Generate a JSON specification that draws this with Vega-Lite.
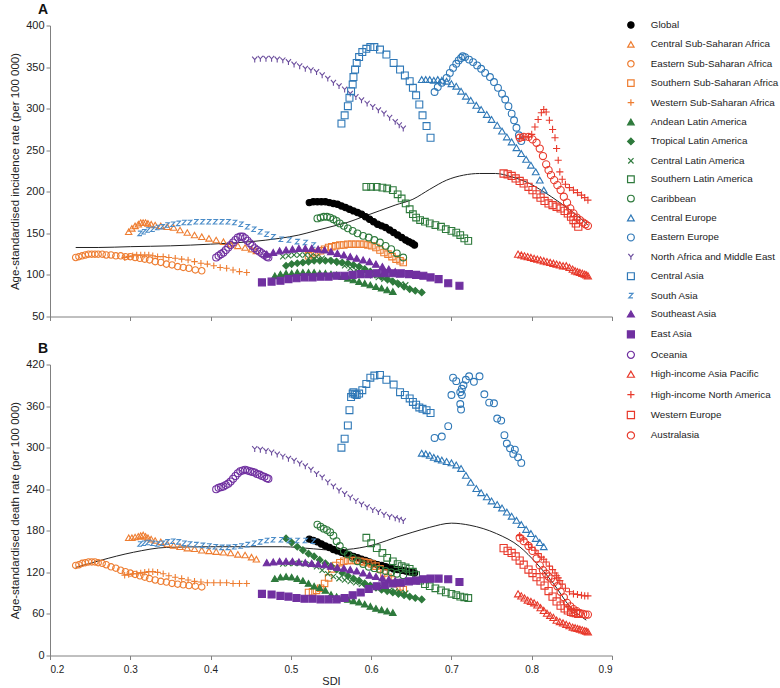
{
"$schema":"https://vega.github.io/schema/vega-lite/v6.json",
"background":"white",
"padding":{"left":9,"top":2.5,"right":0,"bottom":0},
"config":{"font":"Liberation Sans","view":{"stroke":null},
"axis":{"grid":false,"domainColor":"#808080","tickColor":"#808080","tickSize":4,"labelColor":"#222","titleColor":"#222","labelFontSize":11,"titleFontSize":11.5,"titleFontWeight":"normal","labelPadding":2},
"legend":{"title":null,"labelFont":"Liberation Sans","labelFontSize":9.8,"labelColor":"#222","symbolStrokeWidth":1.2,"rowPadding":7.4,"labelOffset":15}},
"resolve":{"scale":{"x":"independent","y":"independent"}},
"spacing":20,
"datasets":{
"la":[{"x":0.232,"a":133},{"x":0.26,"a":133},{"x":0.3,"a":134},{"x":0.35,"a":135},{"x":0.4,"a":137},{"x":0.45,"a":140},{"x":0.486,"a":144},{"x":0.51,"a":148},{"x":0.53,"a":153},{"x":0.55,"a":158},{"x":0.57,"a":163},{"x":0.59,"a":170},{"x":0.61,"a":177},{"x":0.63,"a":184},{"x":0.652,"a":191},{"x":0.673,"a":203},{"x":0.694,"a":214},{"x":0.715,"a":220},{"x":0.735,"a":222},{"x":0.755,"a":222},{"x":0.775,"a":218},{"x":0.795,"a":211},{"x":0.815,"a":200},{"x":0.835,"a":187},{"x":0.852,"a":175},{"x":0.87,"a":160}],
"lb":[{"x":0.232,"b":127},{"x":0.262,"b":137},{"x":0.304,"b":149},{"x":0.345,"b":156},{"x":0.4,"b":157},{"x":0.45,"b":157},{"x":0.49,"b":157},{"x":0.528,"b":154},{"x":0.553,"b":152},{"x":0.578,"b":154},{"x":0.607,"b":161},{"x":0.632,"b":171},{"x":0.652,"b":178},{"x":0.673,"b":185},{"x":0.7,"b":191},{"x":0.723,"b":188},{"x":0.756,"b":176},{"x":0.785,"b":157},{"x":0.806,"b":133},{"x":0.827,"b":104},{"x":0.848,"b":70},{"x":0.868,"b":51}],
"d":[
{"s":"Global","x":0.523,"a":187,"b":168},{"s":"Global","x":0.528,"a":188,"b":166},{"s":"Global","x":0.533,"a":188,"b":164},{"s":"Global","x":0.538,"a":188,"b":161},{"s":"Global","x":0.543,"a":188,"b":158},{"s":"Global","x":0.548,"a":187,"b":156},{"s":"Global","x":0.553,"a":186,"b":153},{"s":"Global","x":0.558,"a":185,"b":151},{"s":"Global","x":0.563,"a":183,"b":149},{"s":"Global","x":0.568,"a":181,"b":147},{"s":"Global","x":0.573,"a":179,"b":145},{"s":"Global","x":0.578,"a":177,"b":143},{"s":"Global","x":0.583,"a":175,"b":141},{"s":"Global","x":0.588,"a":173,"b":139},{"s":"Global","x":0.593,"a":170,"b":137},{"s":"Global","x":0.598,"a":167,"b":135},{"s":"Global","x":0.603,"a":164,"b":133},{"s":"Global","x":0.608,"a":161,"b":131},{"s":"Global","x":0.613,"a":159,"b":130},{"s":"Global","x":0.618,"a":157,"b":128},{"s":"Global","x":0.623,"a":154,"b":127},{"s":"Global","x":0.628,"a":151,"b":125},{"s":"Global","x":0.633,"a":148,"b":124},{"s":"Global","x":0.638,"a":145,"b":123},{"s":"Global","x":0.643,"a":142,"b":122},{"s":"Global","x":0.647,"a":140,"b":121},{"s":"Global","x":0.651,"a":138,"b":120},{"s":"Global","x":0.654,"a":136,"b":119},
{"s":"Central Sub-Saharan Africa","x":0.298,"a":152,"b":170},{"s":"Central Sub-Saharan Africa","x":0.302,"a":156,"b":170},{"s":"Central Sub-Saharan Africa","x":0.306,"a":159,"b":171},{"s":"Central Sub-Saharan Africa","x":0.31,"a":161,"b":172},{"s":"Central Sub-Saharan Africa","x":0.313,"a":163,"b":173},{"s":"Central Sub-Saharan Africa","x":0.316,"a":163,"b":174},{"s":"Central Sub-Saharan Africa","x":0.319,"a":163,"b":172},{"s":"Central Sub-Saharan Africa","x":0.322,"a":162,"b":170},{"s":"Central Sub-Saharan Africa","x":0.326,"a":161,"b":168},{"s":"Central Sub-Saharan Africa","x":0.331,"a":160,"b":166},{"s":"Central Sub-Saharan Africa","x":0.338,"a":159,"b":164},{"s":"Central Sub-Saharan Africa","x":0.346,"a":158,"b":161},{"s":"Central Sub-Saharan Africa","x":0.354,"a":157,"b":159},{"s":"Central Sub-Saharan Africa","x":0.362,"a":154,"b":157},{"s":"Central Sub-Saharan Africa","x":0.371,"a":151,"b":155},{"s":"Central Sub-Saharan Africa","x":0.38,"a":148,"b":154},{"s":"Central Sub-Saharan Africa","x":0.389,"a":146,"b":152},{"s":"Central Sub-Saharan Africa","x":0.398,"a":144,"b":151},{"s":"Central Sub-Saharan Africa","x":0.407,"a":142,"b":150},{"s":"Central Sub-Saharan Africa","x":0.416,"a":140,"b":149},{"s":"Central Sub-Saharan Africa","x":0.425,"a":137,"b":148},{"s":"Central Sub-Saharan Africa","x":0.434,"a":135,"b":146},{"s":"Central Sub-Saharan Africa","x":0.443,"a":133,"b":145},{"s":"Central Sub-Saharan Africa","x":0.451,"a":131,"b":142},{"s":"Central Sub-Saharan Africa","x":0.457,"a":129,"b":139},
{"s":"Eastern Sub-Saharan Africa","x":0.232,"a":121,"b":130},{"s":"Eastern Sub-Saharan Africa","x":0.236,"a":122,"b":131},{"s":"Eastern Sub-Saharan Africa","x":0.24,"a":123,"b":133},{"s":"Eastern Sub-Saharan Africa","x":0.244,"a":124,"b":134},{"s":"Eastern Sub-Saharan Africa","x":0.248,"a":125,"b":135},{"s":"Eastern Sub-Saharan Africa","x":0.252,"a":125,"b":135},{"s":"Eastern Sub-Saharan Africa","x":0.256,"a":125,"b":135},{"s":"Eastern Sub-Saharan Africa","x":0.26,"a":125,"b":134},{"s":"Eastern Sub-Saharan Africa","x":0.265,"a":125,"b":133},{"s":"Eastern Sub-Saharan Africa","x":0.27,"a":124,"b":131},{"s":"Eastern Sub-Saharan Africa","x":0.276,"a":124,"b":128},{"s":"Eastern Sub-Saharan Africa","x":0.282,"a":123,"b":126},{"s":"Eastern Sub-Saharan Africa","x":0.288,"a":123,"b":123},{"s":"Eastern Sub-Saharan Africa","x":0.294,"a":122,"b":121},{"s":"Eastern Sub-Saharan Africa","x":0.3,"a":122,"b":119},{"s":"Eastern Sub-Saharan Africa","x":0.306,"a":121,"b":117},{"s":"Eastern Sub-Saharan Africa","x":0.312,"a":120,"b":115},{"s":"Eastern Sub-Saharan Africa","x":0.318,"a":119,"b":113},{"s":"Eastern Sub-Saharan Africa","x":0.324,"a":118,"b":111},{"s":"Eastern Sub-Saharan Africa","x":0.331,"a":116,"b":109},{"s":"Eastern Sub-Saharan Africa","x":0.338,"a":115,"b":107},{"s":"Eastern Sub-Saharan Africa","x":0.345,"a":113,"b":106},{"s":"Eastern Sub-Saharan Africa","x":0.352,"a":112,"b":104},{"s":"Eastern Sub-Saharan Africa","x":0.359,"a":110,"b":103},{"s":"Eastern Sub-Saharan Africa","x":0.366,"a":109,"b":102},{"s":"Eastern Sub-Saharan Africa","x":0.373,"a":108,"b":101},{"s":"Eastern Sub-Saharan Africa","x":0.381,"a":106,"b":100},{"s":"Eastern Sub-Saharan Africa","x":0.389,"a":105,"b":99},
{"s":"Southern Sub-Saharan Africa","x":0.522,"a":123,"b":91},{"s":"Southern Sub-Saharan Africa","x":0.527,"a":125,"b":92},{"s":"Southern Sub-Saharan Africa","x":0.532,"a":127,"b":94},{"s":"Southern Sub-Saharan Africa","x":0.537,"a":129,"b":97},{"s":"Southern Sub-Saharan Africa","x":0.542,"a":131,"b":104},{"s":"Southern Sub-Saharan Africa","x":0.547,"a":133,"b":112},{"s":"Southern Sub-Saharan Africa","x":0.551,"a":134,"b":125},{"s":"Southern Sub-Saharan Africa","x":0.556,"a":135,"b":130},{"s":"Southern Sub-Saharan Africa","x":0.561,"a":136,"b":134},{"s":"Southern Sub-Saharan Africa","x":0.566,"a":136,"b":136},{"s":"Southern Sub-Saharan Africa","x":0.571,"a":137,"b":137},{"s":"Southern Sub-Saharan Africa","x":0.576,"a":137,"b":137},{"s":"Southern Sub-Saharan Africa","x":0.581,"a":137,"b":137},{"s":"Southern Sub-Saharan Africa","x":0.586,"a":137,"b":136},{"s":"Southern Sub-Saharan Africa","x":0.591,"a":137,"b":135},{"s":"Southern Sub-Saharan Africa","x":0.596,"a":136,"b":134},{"s":"Southern Sub-Saharan Africa","x":0.601,"a":135,"b":132},{"s":"Southern Sub-Saharan Africa","x":0.606,"a":133,"b":129},{"s":"Southern Sub-Saharan Africa","x":0.611,"a":130,"b":125},{"s":"Southern Sub-Saharan Africa","x":0.616,"a":127,"b":119},{"s":"Southern Sub-Saharan Africa","x":0.621,"a":125,"b":113},{"s":"Southern Sub-Saharan Africa","x":0.626,"a":122,"b":109},{"s":"Southern Sub-Saharan Africa","x":0.631,"a":119,"b":104},{"s":"Southern Sub-Saharan Africa","x":0.636,"a":117,"b":99},{"s":"Southern Sub-Saharan Africa","x":0.64,"a":115,"b":95},
{"s":"Western Sub-Saharan Africa","x":0.293,"a":121,"b":116},{"s":"Western Sub-Saharan Africa","x":0.298,"a":122,"b":117},{"s":"Western Sub-Saharan Africa","x":0.303,"a":123,"b":118},{"s":"Western Sub-Saharan Africa","x":0.308,"a":124,"b":118},{"s":"Western Sub-Saharan Africa","x":0.313,"a":124,"b":119},{"s":"Western Sub-Saharan Africa","x":0.318,"a":124,"b":120},{"s":"Western Sub-Saharan Africa","x":0.323,"a":124,"b":121},{"s":"Western Sub-Saharan Africa","x":0.328,"a":123,"b":121},{"s":"Western Sub-Saharan Africa","x":0.334,"a":122,"b":120},{"s":"Western Sub-Saharan Africa","x":0.341,"a":122,"b":118},{"s":"Western Sub-Saharan Africa","x":0.348,"a":121,"b":115},{"s":"Western Sub-Saharan Africa","x":0.356,"a":120,"b":113},{"s":"Western Sub-Saharan Africa","x":0.364,"a":119,"b":111},{"s":"Western Sub-Saharan Africa","x":0.372,"a":118,"b":109},{"s":"Western Sub-Saharan Africa","x":0.38,"a":116,"b":107},{"s":"Western Sub-Saharan Africa","x":0.388,"a":114,"b":106},{"s":"Western Sub-Saharan Africa","x":0.396,"a":113,"b":105},{"s":"Western Sub-Saharan Africa","x":0.404,"a":111,"b":105},{"s":"Western Sub-Saharan Africa","x":0.412,"a":109,"b":105},{"s":"Western Sub-Saharan Africa","x":0.42,"a":108,"b":105},{"s":"Western Sub-Saharan Africa","x":0.428,"a":106,"b":104},{"s":"Western Sub-Saharan Africa","x":0.436,"a":104,"b":104},{"s":"Western Sub-Saharan Africa","x":0.445,"a":103,"b":104},
{"s":"Andean Latin America","x":0.48,"a":99,"b":111},{"s":"Andean Latin America","x":0.487,"a":101,"b":113},{"s":"Andean Latin America","x":0.494,"a":102,"b":114},{"s":"Andean Latin America","x":0.501,"a":102,"b":113},{"s":"Andean Latin America","x":0.508,"a":103,"b":111},{"s":"Andean Latin America","x":0.515,"a":103,"b":108},{"s":"Andean Latin America","x":0.522,"a":103,"b":104},{"s":"Andean Latin America","x":0.529,"a":103,"b":100},{"s":"Andean Latin America","x":0.536,"a":102,"b":98},{"s":"Andean Latin America","x":0.543,"a":102,"b":94},{"s":"Andean Latin America","x":0.55,"a":101,"b":88},{"s":"Andean Latin America","x":0.557,"a":100,"b":85},{"s":"Andean Latin America","x":0.564,"a":98,"b":83},{"s":"Andean Latin America","x":0.571,"a":96,"b":81},{"s":"Andean Latin America","x":0.578,"a":94,"b":79},{"s":"Andean Latin America","x":0.585,"a":92,"b":77},{"s":"Andean Latin America","x":0.592,"a":90,"b":74},{"s":"Andean Latin America","x":0.599,"a":88,"b":71},{"s":"Andean Latin America","x":0.606,"a":86,"b":68},{"s":"Andean Latin America","x":0.613,"a":84,"b":66},{"s":"Andean Latin America","x":0.62,"a":82,"b":64},{"s":"Andean Latin America","x":0.627,"a":80,"b":62},
{"s":"Tropical Latin America","x":0.494,"a":111,"b":169},{"s":"Tropical Latin America","x":0.501,"a":113,"b":163},{"s":"Tropical Latin America","x":0.508,"a":114,"b":157},{"s":"Tropical Latin America","x":0.515,"a":115,"b":152},{"s":"Tropical Latin America","x":0.522,"a":116,"b":147},{"s":"Tropical Latin America","x":0.529,"a":117,"b":143},{"s":"Tropical Latin America","x":0.536,"a":117,"b":138},{"s":"Tropical Latin America","x":0.543,"a":117,"b":133},{"s":"Tropical Latin America","x":0.55,"a":117,"b":129},{"s":"Tropical Latin America","x":0.557,"a":116,"b":124},{"s":"Tropical Latin America","x":0.564,"a":115,"b":119},{"s":"Tropical Latin America","x":0.571,"a":114,"b":115},{"s":"Tropical Latin America","x":0.578,"a":112,"b":111},{"s":"Tropical Latin America","x":0.585,"a":110,"b":108},{"s":"Tropical Latin America","x":0.592,"a":107,"b":104},{"s":"Tropical Latin America","x":0.599,"a":104,"b":101},{"s":"Tropical Latin America","x":0.606,"a":101,"b":98},{"s":"Tropical Latin America","x":0.613,"a":98,"b":95},{"s":"Tropical Latin America","x":0.62,"a":95,"b":93},{"s":"Tropical Latin America","x":0.627,"a":92,"b":91},{"s":"Tropical Latin America","x":0.634,"a":89,"b":89},{"s":"Tropical Latin America","x":0.641,"a":86,"b":87},{"s":"Tropical Latin America","x":0.648,"a":83,"b":85},{"s":"Tropical Latin America","x":0.655,"a":81,"b":83},{"s":"Tropical Latin America","x":0.663,"a":79,"b":81},
{"s":"Central Latin America","x":0.49,"a":122,"b":132},{"s":"Central Latin America","x":0.497,"a":123,"b":133},{"s":"Central Latin America","x":0.504,"a":124,"b":133},{"s":"Central Latin America","x":0.511,"a":124,"b":133},{"s":"Central Latin America","x":0.518,"a":124,"b":132},{"s":"Central Latin America","x":0.525,"a":123,"b":131},{"s":"Central Latin America","x":0.532,"a":122,"b":128},{"s":"Central Latin America","x":0.539,"a":120,"b":123},{"s":"Central Latin America","x":0.546,"a":118,"b":118},{"s":"Central Latin America","x":0.553,"a":116,"b":114},{"s":"Central Latin America","x":0.56,"a":114,"b":111},{"s":"Central Latin America","x":0.567,"a":111,"b":109},{"s":"Central Latin America","x":0.574,"a":108,"b":107},{"s":"Central Latin America","x":0.581,"a":106,"b":105},{"s":"Central Latin America","x":0.588,"a":103,"b":103},{"s":"Central Latin America","x":0.595,"a":101,"b":101},{"s":"Central Latin America","x":0.602,"a":99,"b":100},{"s":"Central Latin America","x":0.609,"a":97,"b":98},{"s":"Central Latin America","x":0.616,"a":95,"b":96},{"s":"Central Latin America","x":0.623,"a":93,"b":94},{"s":"Central Latin America","x":0.63,"a":91,"b":93},{"s":"Central Latin America","x":0.637,"a":89,"b":91},{"s":"Central Latin America","x":0.643,"a":88,"b":90},
{"s":"Southern Latin America","x":0.594,"a":206,"b":170},{"s":"Southern Latin America","x":0.6,"a":206,"b":162},{"s":"Southern Latin America","x":0.607,"a":206,"b":155},{"s":"Southern Latin America","x":0.614,"a":205,"b":148},{"s":"Southern Latin America","x":0.62,"a":204,"b":141},{"s":"Southern Latin America","x":0.627,"a":202,"b":136},{"s":"Southern Latin America","x":0.633,"a":197,"b":132},{"s":"Southern Latin America","x":0.638,"a":192,"b":129},{"s":"Southern Latin America","x":0.643,"a":186,"b":127},{"s":"Southern Latin America","x":0.648,"a":179,"b":125},{"s":"Southern Latin America","x":0.652,"a":173,"b":121},{"s":"Southern Latin America","x":0.656,"a":169,"b":116},{"s":"Southern Latin America","x":0.661,"a":166,"b":108},{"s":"Southern Latin America","x":0.667,"a":164,"b":103},{"s":"Southern Latin America","x":0.673,"a":162,"b":100},{"s":"Southern Latin America","x":0.68,"a":160,"b":97},{"s":"Southern Latin America","x":0.687,"a":158,"b":94},{"s":"Southern Latin America","x":0.693,"a":155,"b":91},{"s":"Southern Latin America","x":0.7,"a":153,"b":89},{"s":"Southern Latin America","x":0.706,"a":151,"b":87},{"s":"Southern Latin America","x":0.711,"a":148,"b":85},{"s":"Southern Latin America","x":0.716,"a":144,"b":84},{"s":"Southern Latin America","x":0.721,"a":141,"b":83},
{"s":"Caribbean","x":0.533,"a":168,"b":189},{"s":"Caribbean","x":0.537,"a":169,"b":186},{"s":"Caribbean","x":0.541,"a":170,"b":183},{"s":"Caribbean","x":0.545,"a":170,"b":181},{"s":"Caribbean","x":0.549,"a":169,"b":178},{"s":"Caribbean","x":0.553,"a":167,"b":173},{"s":"Caribbean","x":0.557,"a":165,"b":165},{"s":"Caribbean","x":0.561,"a":162,"b":158},{"s":"Caribbean","x":0.566,"a":159,"b":151},{"s":"Caribbean","x":0.571,"a":156,"b":146},{"s":"Caribbean","x":0.577,"a":153,"b":141},{"s":"Caribbean","x":0.583,"a":150,"b":136},{"s":"Caribbean","x":0.59,"a":147,"b":132},{"s":"Caribbean","x":0.597,"a":145,"b":128},{"s":"Caribbean","x":0.604,"a":142,"b":126},{"s":"Caribbean","x":0.611,"a":139,"b":124},{"s":"Caribbean","x":0.618,"a":135,"b":122},{"s":"Caribbean","x":0.625,"a":131,"b":120},{"s":"Caribbean","x":0.632,"a":126,"b":118},{"s":"Caribbean","x":0.64,"a":121,"b":116},
{"s":"Central Europe","x":0.663,"a":335,"b":292},{"s":"Central Europe","x":0.668,"a":335,"b":291},{"s":"Central Europe","x":0.673,"a":335,"b":289},{"s":"Central Europe","x":0.678,"a":334,"b":286},{"s":"Central Europe","x":0.683,"a":335,"b":284},{"s":"Central Europe","x":0.688,"a":334,"b":282},{"s":"Central Europe","x":0.694,"a":333,"b":280},{"s":"Central Europe","x":0.7,"a":330,"b":278},{"s":"Central Europe","x":0.706,"a":327,"b":275},{"s":"Central Europe","x":0.712,"a":321,"b":270},{"s":"Central Europe","x":0.718,"a":315,"b":260},{"s":"Central Europe","x":0.724,"a":310,"b":250},{"s":"Central Europe","x":0.731,"a":304,"b":241},{"s":"Central Europe","x":0.737,"a":299,"b":235},{"s":"Central Europe","x":0.744,"a":293,"b":229},{"s":"Central Europe","x":0.75,"a":287,"b":223},{"s":"Central Europe","x":0.757,"a":280,"b":218},{"s":"Central Europe","x":0.763,"a":273,"b":213},{"s":"Central Europe","x":0.769,"a":266,"b":207},{"s":"Central Europe","x":0.775,"a":260,"b":201},{"s":"Central Europe","x":0.781,"a":253,"b":195},{"s":"Central Europe","x":0.787,"a":246,"b":189},{"s":"Central Europe","x":0.793,"a":239,"b":182},{"s":"Central Europe","x":0.799,"a":232,"b":176},{"s":"Central Europe","x":0.805,"a":224,"b":169},{"s":"Central Europe","x":0.81,"a":214,"b":163},{"s":"Central Europe","x":0.815,"a":202,"b":157},
{"s":"Eastern Europe","x":0.679,"a":320},{"s":"Eastern Europe","x":0.683,"a":326},{"s":"Eastern Europe","x":0.688,"a":331},{"s":"Eastern Europe","x":0.694,"a":337},{"s":"Eastern Europe","x":0.698,"a":343},{"s":"Eastern Europe","x":0.702,"a":349},{"s":"Eastern Europe","x":0.706,"a":354},{"s":"Eastern Europe","x":0.709,"a":358},{"s":"Eastern Europe","x":0.712,"a":361},{"s":"Eastern Europe","x":0.714,"a":363},{"s":"Eastern Europe","x":0.717,"a":362},{"s":"Eastern Europe","x":0.722,"a":359},{"s":"Eastern Europe","x":0.727,"a":356},{"s":"Eastern Europe","x":0.732,"a":352},{"s":"Eastern Europe","x":0.737,"a":348},{"s":"Eastern Europe","x":0.742,"a":343},{"s":"Eastern Europe","x":0.748,"a":338},{"s":"Eastern Europe","x":0.753,"a":332},{"s":"Eastern Europe","x":0.758,"a":325},{"s":"Eastern Europe","x":0.763,"a":318},{"s":"Eastern Europe","x":0.767,"a":311},{"s":"Eastern Europe","x":0.771,"a":303},{"s":"Eastern Europe","x":0.775,"a":294},{"s":"Eastern Europe","x":0.778,"a":286},{"s":"Eastern Europe","x":0.781,"a":277},{"s":"Eastern Europe","x":0.784,"a":268},{"s":"Eastern Europe","x":0.787,"a":261},
{"s":"Eastern Europe","x":0.679,"b":314},{"s":"Eastern Europe","x":0.688,"b":316},{"s":"Eastern Europe","x":0.696,"b":331},{"s":"Eastern Europe","x":0.7,"b":376},{"s":"Eastern Europe","x":0.702,"b":401},{"s":"Eastern Europe","x":0.706,"b":396},{"s":"Eastern Europe","x":0.711,"b":380},{"s":"Eastern Europe","x":0.713,"b":385},{"s":"Eastern Europe","x":0.715,"b":390},{"s":"Eastern Europe","x":0.713,"b":376},{"s":"Eastern Europe","x":0.711,"b":363},{"s":"Eastern Europe","x":0.712,"b":355},{"s":"Eastern Europe","x":0.718,"b":398},{"s":"Eastern Europe","x":0.722,"b":403},{"s":"Eastern Europe","x":0.728,"b":395},{"s":"Eastern Europe","x":0.735,"b":403},{"s":"Eastern Europe","x":0.741,"b":377},{"s":"Eastern Europe","x":0.747,"b":365},{"s":"Eastern Europe","x":0.753,"b":364},{"s":"Eastern Europe","x":0.757,"b":342},{"s":"Eastern Europe","x":0.762,"b":339},{"s":"Eastern Europe","x":0.766,"b":318},{"s":"Eastern Europe","x":0.769,"b":306},{"s":"Eastern Europe","x":0.773,"b":299},{"s":"Eastern Europe","x":0.779,"b":297},{"s":"Eastern Europe","x":0.777,"b":291},{"s":"Eastern Europe","x":0.783,"b":286},{"s":"Eastern Europe","x":0.787,"b":278},
{"s":"North Africa and Middle East","x":0.455,"a":359,"b":298},{"s":"North Africa and Middle East","x":0.462,"a":360,"b":297},{"s":"North Africa and Middle East","x":0.469,"a":360,"b":295},{"s":"North Africa and Middle East","x":0.476,"a":360,"b":293},{"s":"North Africa and Middle East","x":0.483,"a":359,"b":290},{"s":"North Africa and Middle East","x":0.49,"a":358,"b":287},{"s":"North Africa and Middle East","x":0.497,"a":356,"b":284},{"s":"North Africa and Middle East","x":0.504,"a":353,"b":281},{"s":"North Africa and Middle East","x":0.511,"a":351,"b":277},{"s":"North Africa and Middle East","x":0.518,"a":348,"b":273},{"s":"North Africa and Middle East","x":0.525,"a":346,"b":268},{"s":"North Africa and Middle East","x":0.532,"a":344,"b":262},{"s":"North Africa and Middle East","x":0.539,"a":340,"b":257},{"s":"North Africa and Middle East","x":0.546,"a":336,"b":250},{"s":"North Africa and Middle East","x":0.553,"a":331,"b":244},{"s":"North Africa and Middle East","x":0.56,"a":327,"b":238},{"s":"North Africa and Middle East","x":0.567,"a":323,"b":233},{"s":"North Africa and Middle East","x":0.574,"a":318,"b":228},{"s":"North Africa and Middle East","x":0.581,"a":314,"b":223},{"s":"North Africa and Middle East","x":0.588,"a":310,"b":218},{"s":"North Africa and Middle East","x":0.595,"a":306,"b":214},{"s":"North Africa and Middle East","x":0.602,"a":302,"b":210},{"s":"North Africa and Middle East","x":0.609,"a":298,"b":207},{"s":"North Africa and Middle East","x":0.616,"a":294,"b":203},{"s":"North Africa and Middle East","x":0.623,"a":289,"b":200},{"s":"North Africa and Middle East","x":0.63,"a":284,"b":198},{"s":"North Africa and Middle East","x":0.635,"a":280,"b":196},{"s":"North Africa and Middle East","x":0.64,"a":276,"b":194},
{"s":"Central Asia","x":0.563,"a":282,"b":300},{"s":"Central Asia","x":0.567,"a":292,"b":313},{"s":"Central Asia","x":0.571,"a":303,"b":332},{"s":"Central Asia","x":0.573,"a":313,"b":354},{"s":"Central Asia","x":0.575,"a":321,"b":373},{"s":"Central Asia","x":0.577,"a":329,"b":378},{"s":"Central Asia","x":0.578,"a":338,"b":380},{"s":"Central Asia","x":0.58,"a":347,"b":377},{"s":"Central Asia","x":0.582,"a":355,"b":376},{"s":"Central Asia","x":0.585,"a":362,"b":378},{"s":"Central Asia","x":0.589,"a":368,"b":383},{"s":"Central Asia","x":0.594,"a":372,"b":392},{"s":"Central Asia","x":0.599,"a":374,"b":401},{"s":"Central Asia","x":0.604,"a":374,"b":404},{"s":"Central Asia","x":0.611,"a":371,"b":405},{"s":"Central Asia","x":0.619,"a":365,"b":398},{"s":"Central Asia","x":0.628,"a":355,"b":391},{"s":"Central Asia","x":0.636,"a":347,"b":380},{"s":"Central Asia","x":0.642,"a":340,"b":376},{"s":"Central Asia","x":0.648,"a":333,"b":371},{"s":"Central Asia","x":0.652,"a":325,"b":366},{"s":"Central Asia","x":0.656,"a":316,"b":362},{"s":"Central Asia","x":0.66,"a":305,"b":358},{"s":"Central Asia","x":0.664,"a":292,"b":356},{"s":"Central Asia","x":0.669,"a":279,"b":354},{"s":"Central Asia","x":0.674,"a":265,"b":350},
{"s":"South Asia","x":0.312,"a":150,"b":161},{"s":"South Asia","x":0.317,"a":152,"b":162},{"s":"South Asia","x":0.322,"a":154,"b":163},{"s":"South Asia","x":0.328,"a":155,"b":162},{"s":"South Asia","x":0.334,"a":157,"b":161},{"s":"South Asia","x":0.34,"a":158,"b":162},{"s":"South Asia","x":0.346,"a":160,"b":164},{"s":"South Asia","x":0.353,"a":161,"b":165},{"s":"South Asia","x":0.36,"a":162,"b":164},{"s":"South Asia","x":0.367,"a":163,"b":162},{"s":"South Asia","x":0.374,"a":163,"b":161},{"s":"South Asia","x":0.382,"a":164,"b":160},{"s":"South Asia","x":0.39,"a":164,"b":159},{"s":"South Asia","x":0.398,"a":164,"b":158},{"s":"South Asia","x":0.406,"a":164,"b":157},{"s":"South Asia","x":0.414,"a":164,"b":156},{"s":"South Asia","x":0.422,"a":164,"b":156},{"s":"South Asia","x":0.43,"a":163,"b":157},{"s":"South Asia","x":0.438,"a":161,"b":158},{"s":"South Asia","x":0.446,"a":158,"b":160},{"s":"South Asia","x":0.454,"a":155,"b":162},{"s":"South Asia","x":0.462,"a":152,"b":164},{"s":"South Asia","x":0.47,"a":149,"b":166},{"s":"South Asia","x":0.478,"a":146,"b":167},{"s":"South Asia","x":0.488,"a":143,"b":167},{"s":"South Asia","x":0.498,"a":142,"b":166},{"s":"South Asia","x":0.508,"a":140,"b":166},{"s":"South Asia","x":0.518,"a":139,"b":166},{"s":"South Asia","x":0.528,"a":136,"b":165},
{"s":"Southeast Asia","x":0.47,"a":125,"b":134},{"s":"Southeast Asia","x":0.478,"a":127,"b":135},{"s":"Southeast Asia","x":0.486,"a":129,"b":136},{"s":"Southeast Asia","x":0.494,"a":130,"b":136},{"s":"Southeast Asia","x":0.502,"a":131,"b":136},{"s":"Southeast Asia","x":0.51,"a":132,"b":135},{"s":"Southeast Asia","x":0.518,"a":132,"b":134},{"s":"Southeast Asia","x":0.526,"a":132,"b":133},{"s":"Southeast Asia","x":0.534,"a":131,"b":132},{"s":"Southeast Asia","x":0.542,"a":130,"b":131},{"s":"Southeast Asia","x":0.55,"a":128,"b":129},{"s":"Southeast Asia","x":0.558,"a":126,"b":127},{"s":"Southeast Asia","x":0.566,"a":124,"b":126},{"s":"Southeast Asia","x":0.574,"a":122,"b":124},{"s":"Southeast Asia","x":0.582,"a":120,"b":122},{"s":"Southeast Asia","x":0.59,"a":118,"b":119},{"s":"Southeast Asia","x":0.598,"a":116,"b":116},{"s":"Southeast Asia","x":0.606,"a":113,"b":114},{"s":"Southeast Asia","x":0.614,"a":110,"b":112},{"s":"Southeast Asia","x":0.622,"a":107,"b":110},{"s":"Southeast Asia","x":0.63,"a":104,"b":108},{"s":"Southeast Asia","x":0.636,"a":101,"b":106},
{"s":"East Asia","x":0.464,"a":91,"b":89},{"s":"East Asia","x":0.476,"a":92,"b":88},{"s":"East Asia","x":0.487,"a":93,"b":86},{"s":"East Asia","x":0.497,"a":95,"b":85},{"s":"East Asia","x":0.507,"a":96,"b":83},{"s":"East Asia","x":0.517,"a":97,"b":82},{"s":"East Asia","x":0.527,"a":97,"b":82},{"s":"East Asia","x":0.537,"a":98,"b":81},{"s":"East Asia","x":0.547,"a":98,"b":81},{"s":"East Asia","x":0.557,"a":99,"b":81},{"s":"East Asia","x":0.567,"a":99,"b":83},{"s":"East Asia","x":0.577,"a":100,"b":87},{"s":"East Asia","x":0.587,"a":101,"b":91},{"s":"East Asia","x":0.597,"a":101,"b":96},{"s":"East Asia","x":0.607,"a":102,"b":100},{"s":"East Asia","x":0.617,"a":102,"b":102},{"s":"East Asia","x":0.627,"a":102,"b":104},{"s":"East Asia","x":0.637,"a":102,"b":105},{"s":"East Asia","x":0.647,"a":101,"b":107},{"s":"East Asia","x":0.656,"a":100,"b":108},{"s":"East Asia","x":0.665,"a":99,"b":110},{"s":"East Asia","x":0.674,"a":97,"b":111},{"s":"East Asia","x":0.684,"a":95,"b":111},{"s":"East Asia","x":0.696,"a":90,"b":110},{"s":"East Asia","x":0.71,"a":87,"b":106},
{"s":"Oceania","x":0.407,"a":121,"b":240},{"s":"Oceania","x":0.41,"a":123,"b":242},{"s":"Oceania","x":0.413,"a":125,"b":243},{"s":"Oceania","x":0.416,"a":127,"b":244},{"s":"Oceania","x":0.419,"a":130,"b":246},{"s":"Oceania","x":0.422,"a":133,"b":248},{"s":"Oceania","x":0.425,"a":136,"b":251},{"s":"Oceania","x":0.428,"a":139,"b":255},{"s":"Oceania","x":0.431,"a":142,"b":259},{"s":"Oceania","x":0.434,"a":145,"b":263},{"s":"Oceania","x":0.437,"a":146,"b":266},{"s":"Oceania","x":0.44,"a":146,"b":267},{"s":"Oceania","x":0.443,"a":144,"b":268},{"s":"Oceania","x":0.446,"a":141,"b":267},{"s":"Oceania","x":0.449,"a":138,"b":266},{"s":"Oceania","x":0.452,"a":135,"b":265},{"s":"Oceania","x":0.455,"a":132,"b":264},{"s":"Oceania","x":0.458,"a":130,"b":262},{"s":"Oceania","x":0.461,"a":128,"b":261},{"s":"Oceania","x":0.464,"a":126,"b":259},{"s":"Oceania","x":0.467,"a":124,"b":258},{"s":"Oceania","x":0.47,"a":122,"b":256},{"s":"Oceania","x":0.472,"a":121,"b":255},
{"s":"High-income Asia Pacific","x":0.783,"a":125,"b":89},{"s":"High-income Asia Pacific","x":0.787,"a":124,"b":86},{"s":"High-income Asia Pacific","x":0.791,"a":123,"b":83},{"s":"High-income Asia Pacific","x":0.795,"a":122,"b":80},{"s":"High-income Asia Pacific","x":0.799,"a":121,"b":78},{"s":"High-income Asia Pacific","x":0.803,"a":120,"b":76},{"s":"High-income Asia Pacific","x":0.807,"a":119,"b":73},{"s":"High-income Asia Pacific","x":0.811,"a":118,"b":69},{"s":"High-income Asia Pacific","x":0.815,"a":117,"b":65},{"s":"High-income Asia Pacific","x":0.819,"a":116,"b":61},{"s":"High-income Asia Pacific","x":0.823,"a":115,"b":58},{"s":"High-income Asia Pacific","x":0.827,"a":114,"b":55},{"s":"High-income Asia Pacific","x":0.831,"a":113,"b":51},{"s":"High-income Asia Pacific","x":0.835,"a":112,"b":49},{"s":"High-income Asia Pacific","x":0.839,"a":111,"b":47},{"s":"High-income Asia Pacific","x":0.843,"a":111,"b":45},{"s":"High-income Asia Pacific","x":0.847,"a":109,"b":43},{"s":"High-income Asia Pacific","x":0.851,"a":107,"b":41},{"s":"High-income Asia Pacific","x":0.854,"a":105,"b":40},{"s":"High-income Asia Pacific","x":0.857,"a":104,"b":39},{"s":"High-income Asia Pacific","x":0.86,"a":103,"b":38},{"s":"High-income Asia Pacific","x":0.863,"a":102,"b":37},{"s":"High-income Asia Pacific","x":0.866,"a":101,"b":36},{"s":"High-income Asia Pacific","x":0.868,"a":100,"b":35},{"s":"High-income Asia Pacific","x":0.87,"a":99,"b":34},
{"s":"High-income North America","x":0.785,"a":264,"b":173},{"s":"High-income North America","x":0.79,"a":266,"b":168},{"s":"High-income North America","x":0.796,"a":266,"b":160},{"s":"High-income North America","x":0.8,"a":269,"b":156},{"s":"High-income North America","x":0.804,"a":278,"b":152},{"s":"High-income North America","x":0.808,"a":287,"b":147},{"s":"High-income North America","x":0.812,"a":295,"b":142},{"s":"High-income North America","x":0.815,"a":299,"b":139},{"s":"High-income North America","x":0.818,"a":296,"b":135},{"s":"High-income North America","x":0.822,"a":286,"b":129},{"s":"High-income North America","x":0.826,"a":275,"b":124},{"s":"High-income North America","x":0.829,"a":265,"b":119},{"s":"High-income North America","x":0.831,"a":252,"b":115},{"s":"High-income North America","x":0.833,"a":238,"b":112},{"s":"High-income North America","x":0.835,"a":224,"b":108},{"s":"High-income North America","x":0.838,"a":215,"b":103},{"s":"High-income North America","x":0.842,"a":209,"b":97},{"s":"High-income North America","x":0.847,"a":205,"b":92},{"s":"High-income North America","x":0.852,"a":202,"b":89},{"s":"High-income North America","x":0.857,"a":199,"b":88},{"s":"High-income North America","x":0.862,"a":196,"b":87},{"s":"High-income North America","x":0.866,"a":193,"b":86},{"s":"High-income North America","x":0.87,"a":190,"b":86},
{"s":"Western Europe","x":0.765,"a":222,"b":155},{"s":"Western Europe","x":0.77,"a":221,"b":151},{"s":"Western Europe","x":0.775,"a":219,"b":148},{"s":"Western Europe","x":0.78,"a":216,"b":143},{"s":"Western Europe","x":0.785,"a":213,"b":137},{"s":"Western Europe","x":0.79,"a":210,"b":131},{"s":"Western Europe","x":0.796,"a":206,"b":124},{"s":"Western Europe","x":0.801,"a":202,"b":119},{"s":"Western Europe","x":0.806,"a":197,"b":113},{"s":"Western Europe","x":0.811,"a":193,"b":107},{"s":"Western Europe","x":0.816,"a":189,"b":101},{"s":"Western Europe","x":0.821,"a":186,"b":93},{"s":"Western Europe","x":0.826,"a":184,"b":85},{"s":"Western Europe","x":0.831,"a":182,"b":78},{"s":"Western Europe","x":0.836,"a":180,"b":72},{"s":"Western Europe","x":0.841,"a":177,"b":68},{"s":"Western Europe","x":0.845,"a":174,"b":65},{"s":"Western Europe","x":0.849,"a":170,"b":63},{"s":"Western Europe","x":0.852,"a":166,"b":62},{"s":"Western Europe","x":0.855,"a":162,"b":61},{"s":"Western Europe","x":0.858,"a":158,"b":60},
{"s":"Australasia","x":0.785,"a":265,"b":170},{"s":"Australasia","x":0.79,"a":266,"b":165},{"s":"Australasia","x":0.796,"a":266,"b":158},{"s":"Australasia","x":0.801,"a":263,"b":151},{"s":"Australasia","x":0.806,"a":259,"b":140},{"s":"Australasia","x":0.81,"a":252,"b":130},{"s":"Australasia","x":0.814,"a":243,"b":123},{"s":"Australasia","x":0.818,"a":233,"b":118},{"s":"Australasia","x":0.821,"a":226,"b":114},{"s":"Australasia","x":0.824,"a":220,"b":111},{"s":"Australasia","x":0.828,"a":214,"b":106},{"s":"Australasia","x":0.832,"a":208,"b":100},{"s":"Australasia","x":0.836,"a":202,"b":92},{"s":"Australasia","x":0.84,"a":194,"b":84},{"s":"Australasia","x":0.844,"a":187,"b":76},{"s":"Australasia","x":0.848,"a":180,"b":71},{"s":"Australasia","x":0.852,"a":174,"b":67},{"s":"Australasia","x":0.856,"a":169,"b":64},{"s":"Australasia","x":0.86,"a":166,"b":61},{"s":"Australasia","x":0.864,"a":163,"b":60},{"s":"Australasia","x":0.867,"a":161,"b":59},{"s":"Australasia","x":0.87,"a":159,"b":59}
]},
"vconcat":[
{"title":{"text":"A","anchor":"start","frame":"group","dx":-12,"fontSize":14,"fontWeight":"bold","offset":3,"color":"#111"},
"width":562,"height":291,
"encoding":{
"x":{"field":"x","type":"quantitative","scale":{"domain":[0.2,0.9],"nice":false,"zero":false},"axis":{"values":[0.2,0.3,0.4,0.5,0.6,0.7,0.8,0.9],"labels":false,"title":null}},
"y":{"field":"a","type":"quantitative","scale":{"domain":[50,400],"nice":false,"zero":false},"axis":{"values":[50,100,150,200,250,300,350,400],"title":"Age-standardised incidence rate (per 100 000)","titlePadding":5}}},
"layer":[
{"data":{"name":"la"},"mark":{"type":"line","color":"#222","strokeWidth":1,"interpolate":"monotone"}},
{"data":{"name":"d"},"mark":{"type":"point","opacity":1,"strokeWidth":1.1},
"encoding":{
"shape":{"field":"s","type":"nominal","scale":{"domain":["Global","Central Sub-Saharan Africa","Eastern Sub-Saharan Africa","Southern Sub-Saharan Africa","Western Sub-Saharan Africa","Andean Latin America","Tropical Latin America","Central Latin America","Southern Latin America","Caribbean","Central Europe","Eastern Europe","North Africa and Middle East","Central Asia","South Asia","Southeast Asia","East Asia","Oceania","High-income Asia Pacific","High-income North America","Western Europe","Australasia"],"range":["circle","triangle-up","circle","square","M-1,0L1,0M0,-1L0,1","triangle-up","diamond","M-0.8,-0.8L0.8,0.8M-0.8,0.8L0.8,-0.8","square","circle","triangle-up","circle","M-0.75,-0.85L0,0L0.75,-0.85M0,0L0,0.85","square","M-0.6,-0.65L0.6,-0.65L-0.6,0.65L0.6,0.65","triangle-up","square","circle","triangle-up","M-1,0L1,0M0,-1L0,1","square","circle"]},"legend":{"title":null,"orient":"none","legendX":576,"legendY":-5.4}},
"size":{"field":"s","type":"nominal","scale":{"domain":["Global","Central Sub-Saharan Africa","Eastern Sub-Saharan Africa","Southern Sub-Saharan Africa","Western Sub-Saharan Africa","Andean Latin America","Tropical Latin America","Central Latin America","Southern Latin America","Caribbean","Central Europe","Eastern Europe","North Africa and Middle East","Central Asia","South Asia","Southeast Asia","East Asia","Oceania","High-income Asia Pacific","High-income North America","Western Europe","Australasia"],"range":[40,52,45,45,55,40,30,40,45,45,52,48,50,48,36,40,40,45,52,55,45,45]},"legend":{"title":null,"orient":"none","legendX":576,"legendY":-5.4}},
"stroke":{"field":"s","type":"nominal","scale":{"domain":["Global","Central Sub-Saharan Africa","Eastern Sub-Saharan Africa","Southern Sub-Saharan Africa","Western Sub-Saharan Africa","Andean Latin America","Tropical Latin America","Central Latin America","Southern Latin America","Caribbean","Central Europe","Eastern Europe","North Africa and Middle East","Central Asia","South Asia","Southeast Asia","East Asia","Oceania","High-income Asia Pacific","High-income North America","Western Europe","Australasia"],"range":["#000000","#EE7D31","#EE7D31","#EE7D31","#EE7D31","#2E7A3C","#2E7A3C","#2E7A3C","#2E7A3C","#2E7A3C","#2F78B7","#2F78B7","#6A4C9C","#2F78B7","#4A8CC8","#7030A0","#7030A0","#7030A0","#E8392B","#E8392B","#E8392B","#E8392B"]},"legend":{"title":null,"orient":"none","legendX":576,"legendY":-5.4}},
"fill":{"field":"s","type":"nominal","scale":{"domain":["Global","Central Sub-Saharan Africa","Eastern Sub-Saharan Africa","Southern Sub-Saharan Africa","Western Sub-Saharan Africa","Andean Latin America","Tropical Latin America","Central Latin America","Southern Latin America","Caribbean","Central Europe","Eastern Europe","North Africa and Middle East","Central Asia","South Asia","Southeast Asia","East Asia","Oceania","High-income Asia Pacific","High-income North America","Western Europe","Australasia"],"range":["#000000","transparent","transparent","transparent","transparent","#2E7A3C","#2E7A3C","transparent","transparent","transparent","transparent","transparent","transparent","transparent","transparent","#7030A0","#7030A0","transparent","transparent","transparent","transparent","transparent"]},"legend":{"title":null,"orient":"none","legendX":576,"legendY":-5.4}}}}
]},
{"title":{"text":"B","anchor":"start","frame":"group","dx":-12,"fontSize":14,"fontWeight":"bold","offset":3,"color":"#111"},
"width":562,"height":291,
"encoding":{
"x":{"field":"x","type":"quantitative","scale":{"domain":[0.2,0.9],"nice":false,"zero":false},"axis":{"values":[0.2,0.3,0.4,0.5,0.6,0.7,0.8,0.9],"format":".1f","title":"SDI","labelFontSize":10,"labelPadding":5,"titlePadding":1,"titleFontSize":11}},
"y":{"field":"b","type":"quantitative","scale":{"domain":[0,420],"nice":false},"axis":{"values":[0,60,120,180,240,300,360,420],"title":"Age-standardised death rate (per 100 000)","titlePadding":5}}},
"layer":[
{"data":{"name":"lb"},"mark":{"type":"line","color":"#222","strokeWidth":1,"interpolate":"monotone"}},
{"data":{"name":"d"},"mark":{"type":"point","opacity":1,"strokeWidth":1.1},
"encoding":{
"shape":{"field":"s","type":"nominal","scale":{"domain":["Global","Central Sub-Saharan Africa","Eastern Sub-Saharan Africa","Southern Sub-Saharan Africa","Western Sub-Saharan Africa","Andean Latin America","Tropical Latin America","Central Latin America","Southern Latin America","Caribbean","Central Europe","Eastern Europe","North Africa and Middle East","Central Asia","South Asia","Southeast Asia","East Asia","Oceania","High-income Asia Pacific","High-income North America","Western Europe","Australasia"],"range":["circle","triangle-up","circle","square","M-1,0L1,0M0,-1L0,1","triangle-up","diamond","M-0.8,-0.8L0.8,0.8M-0.8,0.8L0.8,-0.8","square","circle","triangle-up","circle","M-0.75,-0.85L0,0L0.75,-0.85M0,0L0,0.85","square","M-0.6,-0.65L0.6,-0.65L-0.6,0.65L0.6,0.65","triangle-up","square","circle","triangle-up","M-1,0L1,0M0,-1L0,1","square","circle"]},"legend":{"title":null,"orient":"none","legendX":576,"legendY":-5.4}},
"size":{"field":"s","type":"nominal","scale":{"domain":["Global","Central Sub-Saharan Africa","Eastern Sub-Saharan Africa","Southern Sub-Saharan Africa","Western Sub-Saharan Africa","Andean Latin America","Tropical Latin America","Central Latin America","Southern Latin America","Caribbean","Central Europe","Eastern Europe","North Africa and Middle East","Central Asia","South Asia","Southeast Asia","East Asia","Oceania","High-income Asia Pacific","High-income North America","Western Europe","Australasia"],"range":[40,52,45,45,55,40,30,40,45,45,52,48,50,48,36,40,40,45,52,55,45,45]},"legend":{"title":null,"orient":"none","legendX":576,"legendY":-5.4}},
"stroke":{"field":"s","type":"nominal","scale":{"domain":["Global","Central Sub-Saharan Africa","Eastern Sub-Saharan Africa","Southern Sub-Saharan Africa","Western Sub-Saharan Africa","Andean Latin America","Tropical Latin America","Central Latin America","Southern Latin America","Caribbean","Central Europe","Eastern Europe","North Africa and Middle East","Central Asia","South Asia","Southeast Asia","East Asia","Oceania","High-income Asia Pacific","High-income North America","Western Europe","Australasia"],"range":["#000000","#EE7D31","#EE7D31","#EE7D31","#EE7D31","#2E7A3C","#2E7A3C","#2E7A3C","#2E7A3C","#2E7A3C","#2F78B7","#2F78B7","#6A4C9C","#2F78B7","#4A8CC8","#7030A0","#7030A0","#7030A0","#E8392B","#E8392B","#E8392B","#E8392B"]},"legend":{"title":null,"orient":"none","legendX":576,"legendY":-5.4}},
"fill":{"field":"s","type":"nominal","scale":{"domain":["Global","Central Sub-Saharan Africa","Eastern Sub-Saharan Africa","Southern Sub-Saharan Africa","Western Sub-Saharan Africa","Andean Latin America","Tropical Latin America","Central Latin America","Southern Latin America","Caribbean","Central Europe","Eastern Europe","North Africa and Middle East","Central Asia","South Asia","Southeast Asia","East Asia","Oceania","High-income Asia Pacific","High-income North America","Western Europe","Australasia"],"range":["#000000","transparent","transparent","transparent","transparent","#2E7A3C","#2E7A3C","transparent","transparent","transparent","transparent","transparent","transparent","transparent","transparent","#7030A0","#7030A0","transparent","transparent","transparent","transparent","transparent"]},"legend":{"title":null,"orient":"none","legendX":576,"legendY":-5.4}}}}
]}
]}
